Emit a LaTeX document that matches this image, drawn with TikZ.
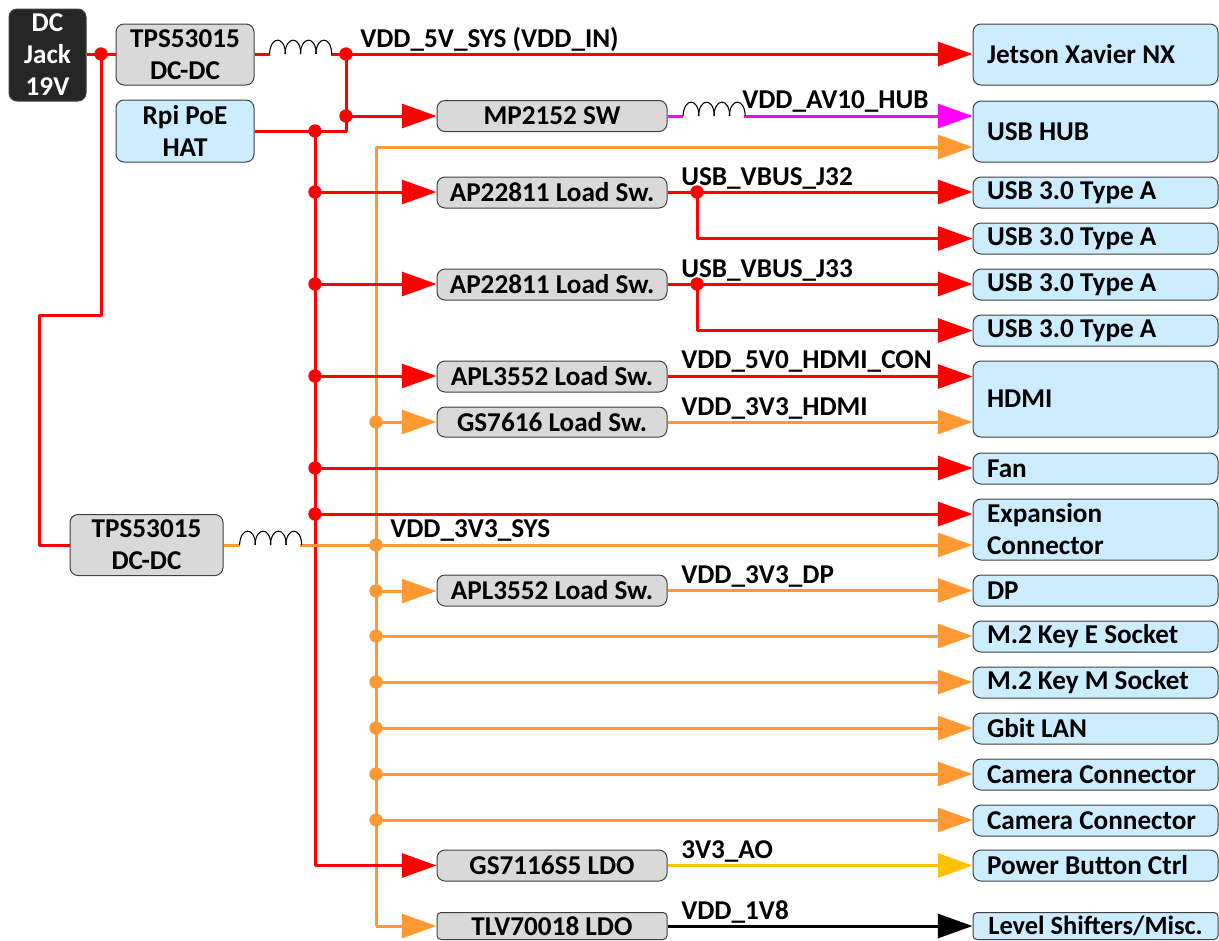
\documentclass[tikz,border=0pt]{standalone}
\usepackage{fontspec}
\setmainfont{Carlito}
\usetikzlibrary{arrows.meta}
\definecolor{cred}{HTML}{FF0000}
\definecolor{corange}{HTML}{FF9933}
\definecolor{cmag}{HTML}{FF00FF}
\definecolor{cgold}{HTML}{FFC000}
\definecolor{cgray}{HTML}{D9D9D9}
\definecolor{cblue}{HTML}{CCECFF}
\definecolor{cdark}{HTML}{262626}
\definecolor{cedge}{HTML}{404040}
\tikzset{
  txt/.style={font=\fontsize{20.4}{24}\selectfont\bfseries},
  boxbase/.style={txt,draw=cedge,line width=0.75pt,rounded corners=6pt,inner sep=0pt,align=center},
  sz/.style 2 args={minimum width=#1*0.75pt,minimum height=#2*0.75pt},
  gbox/.style={boxbase,fill=cgray},
  bbox/.style={boxbase,fill=cblue},
  dbox/.style={boxbase,fill=cdark,text=white},
  rbox/.style={boxbase,fill=cblue,align=flush left,text width=217*0.75pt,inner xsep=14*0.75pt,minimum width=245*0.75pt,minimum height=#1*0.75pt},
  lbl/.style={txt,anchor=base west,inner sep=0pt},
  wire/.style={line width=2.25pt,line join=round},
  arr/.style={wire,-{Triangle[length=26pt,width=18pt]}},
  jdot/.style={circle,fill=#1,inner sep=0pt,minimum size=10pt},
  coil/.style={line width=0.8pt,black}
}
\newcommand{\coilat}[2]{%
  \foreach \ci in {0,1,2,3}{%
    \draw[coil,shift={(#1+15.4*\ci,#2)}] (0,0) .. controls (1,-18.5) and (15.5,-18.5) .. (16,0);}%
}
\begin{document}
\begin{tikzpicture}[x=0.75pt,y=-0.75pt]
\path[use as bounding box,clip] (0,0) rectangle (1219,940);

% boxes
\node[dbox,sz={77}{92}] (jack) at (47.5,55) {DC\\Jack\\19V};
\node[gbox,sz={138}{61}] (tps1) at (185,54.5) {TPS53015\\DC-DC};
\node[bbox,sz={138}{62}] (poe) at (185,131) {Rpi PoE\\HAT};
\node[gbox,sz={153}{61}] (tps2) at (146.5,545) {TPS53015\\DC-DC};
\node[gbox,sz={230}{31}] (mp) at (552,116) {MP2152 SW};
\node[gbox,sz={230}{31}] (ap1) at (552,192.5) {AP22811 Load Sw.};
\node[gbox,sz={230}{31}] (ap2) at (552,284.5) {AP22811 Load Sw.};
\node[gbox,sz={230}{31}] (apl1) at (552,376.5) {APL3552 Load Sw.};
\node[gbox,sz={230}{30}] (gs76) at (552,422) {GS7616 Load Sw.};
\node[gbox,sz={230}{31}] (apl2) at (552,590.5) {APL3552 Load Sw.};
\node[gbox,sz={230}{31}] (gs71) at (552,865.5) {GS7116S5 LDO};
\node[gbox,sz={230}{27},rounded corners=3pt] (tlv) at (552,926) {TLV70018 LDO};

\node[rbox=61] (jetson) at (1095.5,54.5) {Jetson Xavier NX};
\node[rbox=61] (hub) at (1095.5,131.5) {USB HUB};
\node[rbox=31] (u1) at (1095.5,192.5) {USB 3.0 Type A};
\node[rbox=31] (u2) at (1095.5,238.5) {USB 3.0 Type A};
\node[rbox=31] (u3) at (1095.5,284.5) {USB 3.0 Type A};
\node[rbox=31] (u4) at (1095.5,330.5) {USB 3.0 Type A};
\node[rbox=76] (hdmi) at (1095.5,399) {HDMI};
\node[rbox=31] (fan) at (1095.5,468.5) {Fan};
\node[rbox=61] (exp) at (1095.5,529.5) {Expansion\\Connector};
\node[rbox=31] (dp) at (1095.5,590.5) {DP};
\node[rbox=31] (m2e) at (1095.5,636.5) {M.2 Key E Socket};
\node[rbox=31] (m2m) at (1095.5,682.5) {M.2 Key M Socket};
\node[rbox=31] (lan) at (1095.5,728.5) {Gbit LAN};
\node[rbox=31] (cam1) at (1095.5,774.5) {Camera Connector};
\node[rbox=31] (cam2) at (1095.5,820.5) {Camera Connector};
\node[rbox=31] (pwr) at (1095.5,865.5) {Power Button Ctrl};
\node[boxbase,fill=cblue,sz={245}{27},rounded corners=3pt,font=\fontsize{19.8}{24}\selectfont\bfseries] (lvl) at (1095.5,926) {Level Shifters/Misc.};

% named points
\coordinate (l1a) at (269.5,54);
\coordinate (l1b) at (331,54);
\coordinate (l2a) at (683,116);
\coordinate (l2b) at (744,116);
\coordinate (l3a) at (239.5,545);
\coordinate (l3b) at (300,545);
\coordinate (b1) at (101,315);
\coordinate (b2) at (39,315);
\coordinate (otop) at (376,147);
\coordinate (obot) at (376,926);

% junctions
\node[jdot=cred] (jj) at (101,54) {};
\node[jdot=cred] (j5) at (346,54) {};
\node[jdot=cred] (jm) at (346,116) {};
\node[jdot=cred] (r0) at (315,131) {};
\node[jdot=cred] (r1) at (315,192) {};
\node[jdot=cred] (r2) at (315,284) {};
\node[jdot=cred] (r3) at (315,376) {};
\node[jdot=cred] (r4) at (315,468) {};
\node[jdot=cred] (r5) at (315,514) {};
\node[jdot=cred] (v1) at (697,192) {};
\node[jdot=cred] (v2) at (697,284) {};
\node[jdot=corange] (o1) at (376,422) {};
\node[jdot=corange] (o2) at (376,545) {};
\node[jdot=corange] (o3) at (376,591) {};
\node[jdot=corange] (o4) at (376,636) {};
\node[jdot=corange] (o5) at (376,682) {};
\node[jdot=corange] (o6) at (376,728) {};
\node[jdot=corange] (o7) at (376,774) {};
\node[jdot=corange] (o8) at (376,820) {};

% orange bus
\draw[arr,corange] (obot) -- (tlv.west);
\draw[arr,corange] (otop) -- (otop -| hub.west);
\draw[wire,corange] (otop) -- (obot);

% red wires
\draw[wire,cred] (jack.east |- jj) -- (jj.center) -- (tps1.west |- jj);
\draw[wire,cred] (jj.center) -- (b1) -- (b2) |- (tps2.west);
\draw[wire,cred] (tps1.east |- l1a) -- (l1a);
\draw[wire,cred] (l1b) -- (j5.center);
\draw[arr,cred] (j5.center) -- (j5.center -| jetson.west);
\draw[wire,cred] (j5.center) -- (jm.center) -- (r0.center -| jm.center) -- (r0.center) -- (poe.east |- r0);
\draw[arr,cred] (jm.center) -- (jm.center -| mp.west);
\draw[arr,cred] (r0.center) |- (gs71.west);
\draw[arr,cred] (r1.center) -- (r1.center -| ap1.west);
\draw[arr,cred] (r2.center) -- (r2.center -| ap2.west);
\draw[arr,cred] (r3.center) -- (r3.center -| apl1.west);
\draw[arr,cred] (r4.center) -- (r4.center -| fan.west);
\draw[arr,cred] (r5.center) -- (r5.center -| exp.west);
\draw[arr,cred] (ap1.east |- v1) -- (v1 -| u1.west);
\draw[arr,cred] (v1.center) |- (u2.west);
\draw[arr,cred] (ap2.east |- v2) -- (v2 -| u3.west);
\draw[arr,cred] (v2.center) |- (u4.west);
\draw[arr,cred] (apl1.east) -- (apl1.east -| hdmi.west);

% orange wires
\draw[wire,corange] (tps2.east |- l3a) -- (l3a);
\draw[arr,corange] (l3b) -- (l3b -| exp.west);
\draw[arr,corange] (o1.center) -- (gs76.west);
\draw[arr,corange] (gs76.east) -- (gs76.east -| hdmi.west);
\draw[arr,corange] (o3.center) -- (o3.center -| apl2.west);
\draw[arr,corange] (apl2.east) -- (dp.west);
\draw[arr,corange] (o4.center) -- (o4.center -| m2e.west);
\draw[arr,corange] (o5.center) -- (o5.center -| m2m.west);
\draw[arr,corange] (o6.center) -- (o6.center -| lan.west);
\draw[arr,corange] (o7.center) -- (o7.center -| cam1.west);
\draw[arr,corange] (o8.center) -- (o8.center -| cam2.west);

% others
\draw[wire,cmag] (mp.east |- l2a) -- (l2a);
\draw[arr,cmag] (l2b) -- (l2b -| hub.west);
\draw[arr,cgold] (gs71.east) -- (pwr.west);
\draw[arr,black] (tlv.east) -- (lvl.west);

% inductors
\coilat{269.5}{54}
\coilat{683}{116}
\coilat{239.5}{545}

% labels
\node[lbl] (t1) at (360,47) {VDD\_5V\_SYS (VDD\_IN)};
\node[lbl] (t2) at (742,108) {VDD\_AV10\_HUB};
\node[lbl] (t3) at (681,185) {USB\_VBUS\_J32};
\node[lbl] (t4) at (681,277) {USB\_VBUS\_J33};
\node[lbl] (t5) at (681,368) {VDD\_5V0\_HDMI\_CON};
\node[lbl] (t6) at (681,415) {VDD\_3V3\_HDMI};
\node[lbl] (t7) at (390,537) {VDD\_3V3\_SYS};
\node[lbl] (t8) at (681,583) {VDD\_3V3\_DP};
\node[lbl] (t9) at (681,858) {3V3\_AO};
\node[lbl] (t10) at (681,919) {VDD\_1V8};
\end{tikzpicture}
\end{document}
